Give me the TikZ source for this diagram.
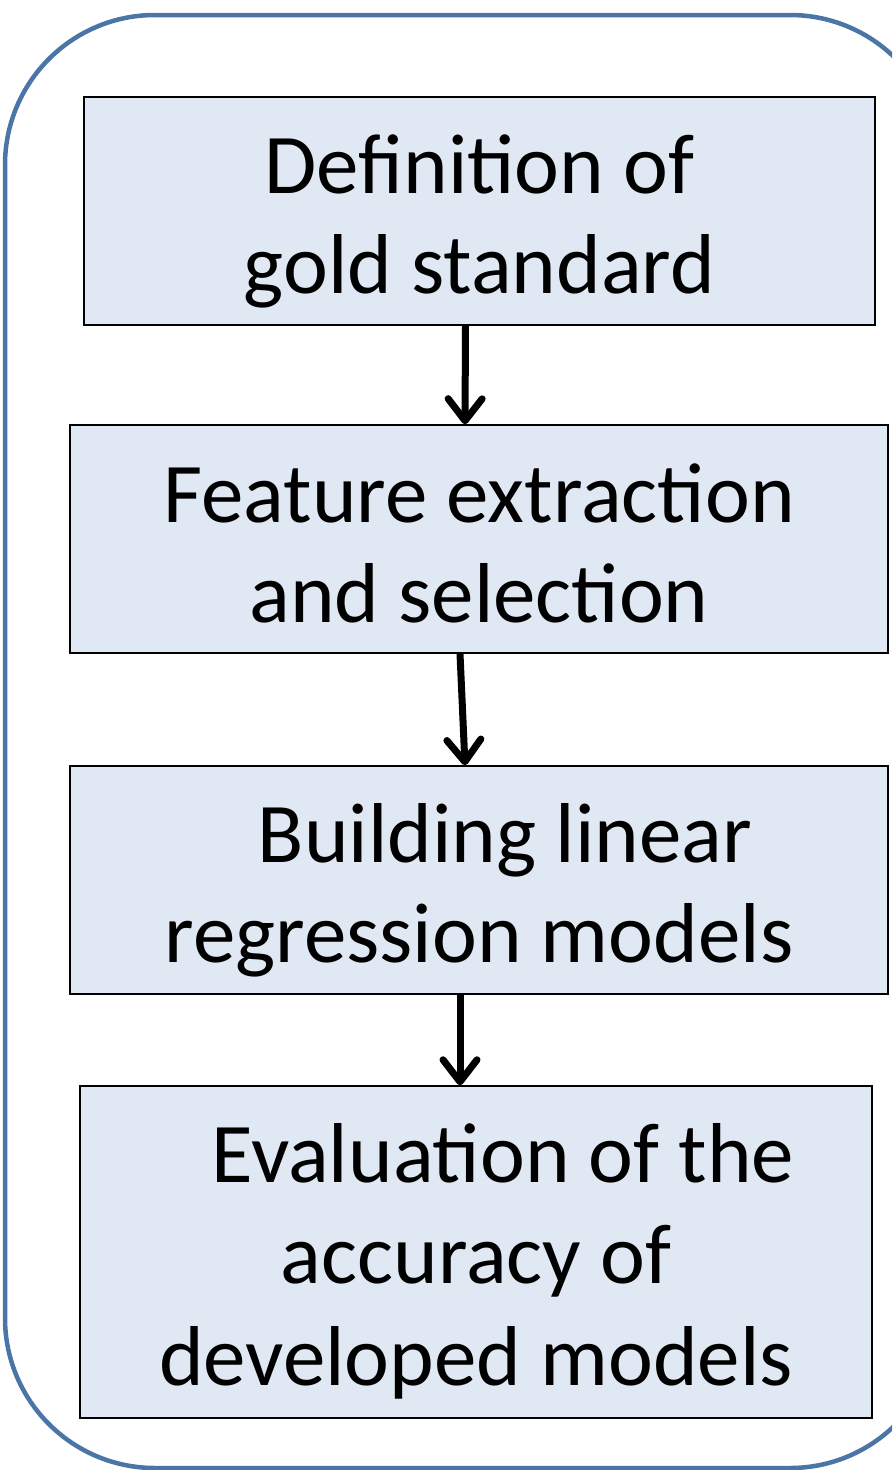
\documentclass[tikz,border=0pt]{standalone}
\usepackage{fontspec}
\setmainfont{Carlito}
\usetikzlibrary{arrows.meta}
\definecolor{outerblue}{HTML}{4A75A6}
\definecolor{boxfill}{HTML}{DFE8F3}
\newcommand{\topht}{\rule{0pt}{70pt}}
\newcommand{\botdp}{\rule[-25pt]{0pt}{25pt}}
\tikzset{
  stepbox/.style={draw=black, line width=1.5pt, fill=boxfill, inner sep=0pt},
  steptext/.style={align=center, inner sep=0pt, font=\fontsize{85}{100}\selectfont},
  flowarrow/.style={draw=black, line width=7pt, line cap=butt, -{Straight Barb[length=22pt, width=34pt, line width=7pt, line cap=round, line join=round]}}
}
\begin{document}
\begin{tikzpicture}[x=1pt,y=-1pt]
\useasboundingbox (0,0) rectangle (892,1470);
\begin{scope}
\clip (0,0) rectangle (892,1470);
\draw[outerblue, line width=4.5pt, rounded corners=150pt] (5,15) rectangle (940,1468);
\end{scope}
\node[stepbox, minimum width=791pt, minimum height=228pt] (b1) at (479.5,211) {};
\node[stepbox, minimum width=818pt, minimum height=228pt] (b2) at (479,539) {};
\node[stepbox, minimum width=818pt, minimum height=228pt] (b3) at (479,880) {};
\node[stepbox, minimum width=792pt, minimum height=332pt] (b4) at (476,1252) {};
\node[steptext] (t1) at ([yshift=-9.5pt]b1.center) {\topht Definition of\\gold standard\botdp};
\node[steptext] (t2) at ([yshift=-10.5pt]b2.center) {\topht Feature extraction\\and selection\botdp};
\node[steptext] (t3) at ([yshift=-9.5pt]b3.center) {\topht\hspace*{52pt}Building linear\\regression models\botdp};
\node[steptext, font=\fontsize{85}{101.5}\selectfont] (t4) at ([yshift=-9pt]b4.center) {\topht\hspace*{54pt}Evaluation of the\\accuracy of\\developed models\botdp};
\draw[flowarrow] ([xshift=-14pt]b1.south) -- ([xshift=-14pt]b2.north);
\draw[flowarrow] ([xshift=-19pt]b2.south) -- ([xshift=-14pt]b3.north);
\draw[flowarrow] ([xshift=-19pt]b3.south) -- ([xshift=-16pt]b4.north);
\end{tikzpicture}
\end{document}
